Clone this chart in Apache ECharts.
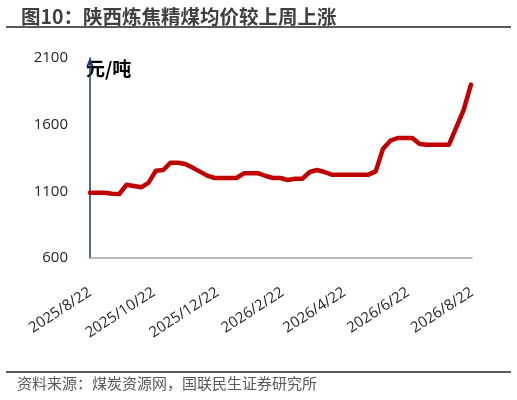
<!DOCTYPE html>
<html>
<head>
<meta charset="utf-8">
<script src="https://cdn.jsdelivr.net/npm/echarts@6/dist/echarts.min.js"></script>
<style>
  html, body { margin: 0; padding: 0; background: #fff; }
  #chart { width: 517px; height: 400px; }
</style>
</head>
<body>
<div id="chart"></div>
<script>
// 周度日期（每周五）
const dates = [
  '2025-08-22', '2025-08-29', '2025-09-05', '2025-09-12', '2025-09-19', '2025-09-26',
  '2025-10-03', '2025-10-10', '2025-10-17', '2025-10-24', '2025-10-31',
  '2025-11-07', '2025-11-14', '2025-11-21', '2025-11-28',
  '2025-12-05', '2025-12-12', '2025-12-19', '2025-12-26',
  '2026-01-02', '2026-01-09', '2026-01-16', '2026-01-23', '2026-01-30',
  '2026-02-06', '2026-02-13', '2026-02-20', '2026-02-27',
  '2026-03-06', '2026-03-13', '2026-03-20', '2026-03-27',
  '2026-04-03', '2026-04-10', '2026-04-17', '2026-04-24',
  '2026-05-01', '2026-05-08', '2026-05-15', '2026-05-22', '2026-05-29',
  '2026-06-05', '2026-06-12', '2026-06-19', '2026-06-26',
  '2026-07-03', '2026-07-10', '2026-07-17', '2026-07-24', '2026-07-31',
  '2026-08-07', '2026-08-14', '2026-08-21'
]
// 陕西炼焦精煤均价（元/吨）
const prices = [
  1090, 1090, 1090, 1082, 1080, 1150,
  1140, 1130, 1165, 1255, 1260,
  1315, 1315, 1305, 1278,
  1248, 1218, 1200, 1200,
  1200, 1200, 1235, 1235, 1235,
  1215, 1200, 1200, 1185,
  1195, 1195, 1245, 1260,
  1245, 1225, 1225, 1225,
  1225, 1225, 1225, 1250, 1420,
  1480, 1500, 1500, 1500,
  1455, 1450, 1450, 1450, 1450,
  1580, 1710, 1900
]
const xTickDates = ['2025-08-22', '2025-10-22', '2025-12-22', '2026-02-22', '2026-04-22', '2026-06-22', '2026-08-22']
const yMin = 600
const yMax = 2100
const yStep = 500

function toTs(s) {
  const p = s.split('-').map(Number)
  return new Date(p[0], p[1] - 1, p[2]).getTime()
}

const myChart = echarts.init(document.getElementById('chart'), null, { renderer: 'canvas' })
const option = {
  backgroundColor: '#fff',
  animation: false,
  textStyle: { fontFamily: 'Noto Sans CJK SC' },
  title: {
    text: '图10：陕西炼焦精煤均价较上周上涨',
    left: 16,
    top: 2,
    textStyle: {
      fontSize: 19.5,
      fontWeight: 'bold',
      color: '#404040',
      fontFamily: 'Noto Sans CJK SC'
    }
  },
  graphic: [
    { type: 'line', shape: { x1: 6, y1: 27, x2: 511, y2: 27 }, style: { stroke: '#595959', lineWidth: 2 } },
    { type: 'line', shape: { x1: 6, y1: 372, x2: 511, y2: 372 }, style: { stroke: '#595959', lineWidth: 2 } },
    {
      type: 'text', left: 17, top: 376,
      style: { text: '资料来源：煤炭资源网，国联民生证券研究所', fontSize: 15, fill: '#595959', fontFamily: 'Noto Sans CJK SC' }
    }
  ],
  grid: { left: 90, right: 45, top: 58, bottom: 142 },
  xAxis: {
    // 用数值轴承载时间戳，刻度标签按指定日期显示
    type: 'value',
    min: toTs(xTickDates[0]),
    max: toTs(xTickDates[xTickDates.length - 1]),
    axisLine: { lineStyle: { color: '#A6A6A6', width: 1.5 } },
    axisTick: { show: false },
    splitLine: { show: false },
    axisLabel: {
      customValues: xTickDates.map(toTs),
      rotate: 33,
      margin: 33,
      fontSize: 15,
      color: '#262626',
      fontFamily: 'Open Sans',
      hideOverlap: false,
      formatter: function (v) {
        const d = new Date(v)
        return d.getFullYear() + '/' + (d.getMonth() + 1) + '/' + d.getDate()
      }
    }
  },
  yAxis: {
    type: 'value',
    min: yMin,
    max: yMax,
    interval: yStep,
    name: '元/吨',
    nameLocation: 'end',
    nameGap: -20,
    nameTextStyle: {
      align: 'left',
      fontSize: 19,
      fontWeight: 'bold',
      color: '#000',
      padding: [0, 0, 0, -4],
      fontFamily: 'Noto Sans CJK SC'
    },
    axisLine: {
      show: true,
      symbol: ['none', 'arrow'],
      symbolSize: [6, 9],
      lineStyle: { color: '#1F3864', width: 1.5 }
    },
    axisTick: { show: false },
    splitLine: { show: false },
    axisLabel: {
      margin: 22,
      fontSize: 15,
      color: '#262626',
      fontFamily: 'Open Sans',
      formatter: function (v) { return String(v) }
    }
  },
  series: [{
    name: '陕西炼焦精煤均价',
    type: 'line',
    data: dates.map((d, i) => [toTs(d), prices[i]]),
    showSymbol: false,
    symbol: 'none',
    smooth: false,
    lineStyle: { color: '#C00000', width: 4.5, join: 'round', cap: 'round' },
    itemStyle: { color: '#C00000' }
  }]
}
myChart.setOption(option)
</script>
</body>
</html>
